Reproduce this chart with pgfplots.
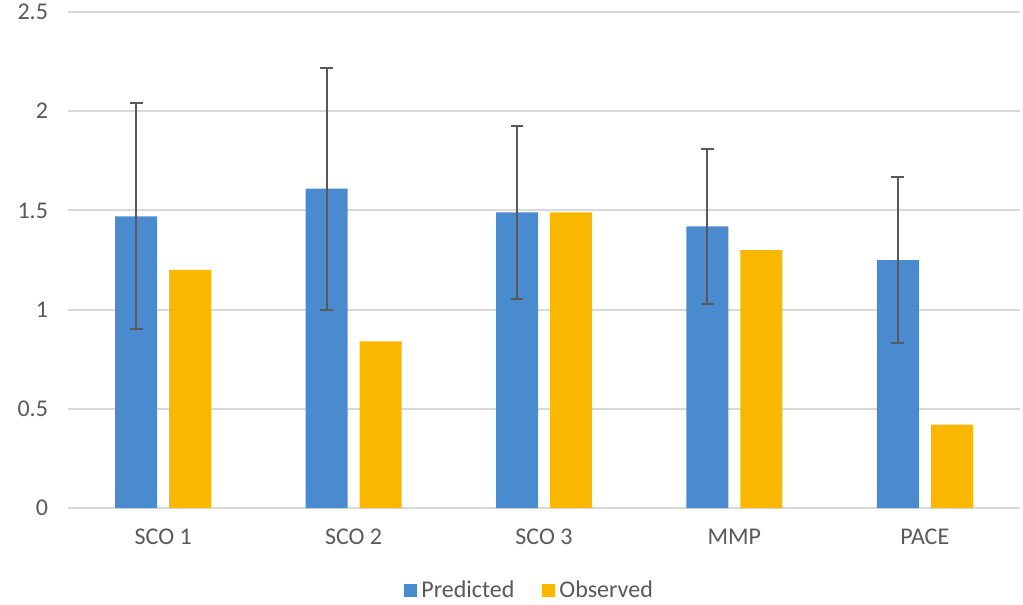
\documentclass[border=0pt]{standalone}
\usepackage{pgfplots}
\pgfplotsset{compat=1.18}
\usepackage{fontspec}
\setmainfont{Carlito}
\definecolor{cblue}{RGB}{74,139,208}
\definecolor{corange}{RGB}{250,183,0}
\definecolor{cgrid}{RGB}{217,217,217}
\definecolor{ctext}{RGB}{89,89,89}
\begin{document}
\begin{tikzpicture}
\begin{axis}[
  name=ax,
  scale only axis,
  width=476pt, height=248pt,
  xmin=-0.5, xmax=4.5,
  ymin=0, ymax=2.5,
  ytick={0,0.5,...,2.5},
  xtick=data,
  xticklabels={SCO 1,SCO 2,SCO 3,MMP,PACE},
  ymajorgrids, grid style={cgrid, line width=1pt},
  axis line style={draw=none},
  major tick length=0pt,
  tick label style={font=\fontsize{12}{14}\selectfont, text=ctext},
  yticklabel style={xshift=-6.5pt},
  xticklabel style={yshift=-7pt},
  /pgf/number format/assume math mode=true,
  yticklabel={\pgfmathprintnumber[fixed,precision=1]{\tick}},
  ybar, bar width=21pt,
  clip=false,
  legend style={at={(0.486,-0.13)}, anchor=north, draw=none, legend columns=2,
    font=\fontsize{12}{14}\selectfont, text=ctext,
    /tikz/every even column/.append style={column sep=12pt}},
  legend image code/.code={\fill[#1] (0pt,-3pt) rectangle (6.5pt,3.5pt);},
]
\addplot[fill=cblue, draw=none, bar shift=-13.5pt,
  error bars/.cd, y dir=both, y explicit,
  error bar style={line width=1pt, color=ctext},
  error mark options={rotate=90, mark size=3.2pt, line width=1pt, color=ctext}]
  coordinates {(0,1.47) +- (0,0.57) (1,1.61) +- (0,0.61) (2,1.49) +- (0,0.435) (3,1.42) +- (0,0.39) (4,1.25) +- (0,0.42)};
\addplot[fill=corange, draw=none, bar shift=13.5pt]
  coordinates {(0,1.20) (1,0.84) (2,1.49) (3,1.30) (4,0.42)};
\legend{Predicted,Observed}
\end{axis}
\pgfresetboundingbox
\path ([shift={(-34pt,-48.5pt)}]ax.south west) rectangle ([shift={(1.5pt,6pt)}]ax.north east);
\end{tikzpicture}
\end{document}
